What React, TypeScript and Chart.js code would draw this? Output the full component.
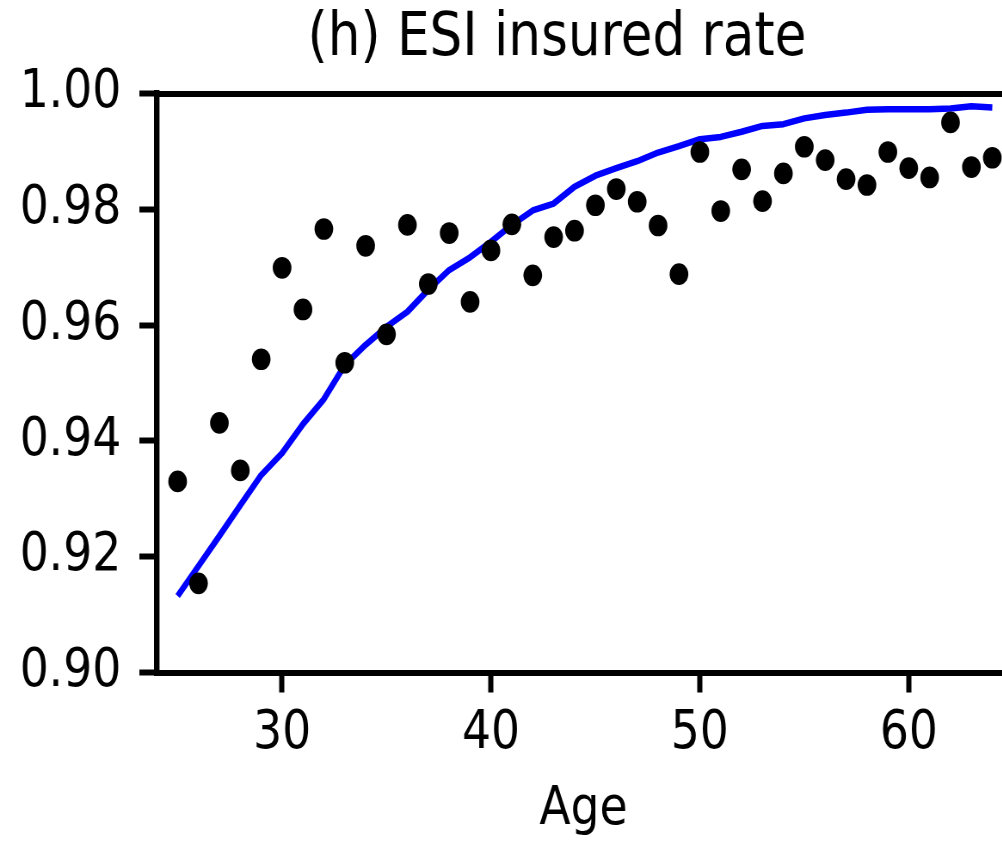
import React, { useEffect, useRef } from 'react';
import { Chart, registerables } from 'chart.js';

Chart.register(...registerables);

// ---------------- data ----------------
const TITLE = '(h) ESI insured rate';
const X_LABEL = 'Age';

const AGES = [
  25, 26, 27, 28, 29, 30, 31, 32, 33, 34,
  35, 36, 37, 38, 39, 40, 41, 42, 43, 44,
  45, 46, 47, 48, 49, 50, 51, 52, 53, 54,
  55, 56, 57, 58, 59, 60, 61, 62, 63, 64,
];

// black dots (data)
const OBSERVED = [
  0.9330, 0.9154, 0.9431, 0.9349, 0.9541, 0.9699, 0.9627, 0.9766, 0.9535, 0.9737,
  0.9584, 0.9773, 0.9671, 0.9759, 0.9640, 0.9729, 0.9774, 0.9686, 0.9752, 0.9763,
  0.9807, 0.9835, 0.9813, 0.9772, 0.9688, 0.9899, 0.9797, 0.9869, 0.9814, 0.9862,
  0.9908, 0.9885, 0.9852, 0.9842, 0.9899, 0.9871, 0.9855, 0.9950, 0.9873, 0.9889,
];

// blue line (model)
const MODEL = [
  0.9132, 0.9184, 0.9236, 0.9289, 0.9341, 0.9379, 0.9429, 0.9472, 0.9531, 0.9566,
  0.9597, 0.9623, 0.9661, 0.9695, 0.9717, 0.9744, 0.9773, 0.9798, 0.9810, 0.9839,
  0.9858, 0.9871, 0.9883, 0.9898, 0.9909, 0.9921, 0.9925, 0.9934, 0.9944, 0.9947,
  0.9957, 0.9963, 0.9967, 0.9972, 0.9973, 0.9973, 0.9973, 0.9974, 0.9978, 0.9976,
];

const X_TICKS = [30, 40, 50, 60];
const Y_TICKS = [0.9, 0.92, 0.94, 0.96, 0.98, 1.0];
const X_MIN = 24;
const X_MAX = 64.86;
const Y_MIN = 0.9;
const Y_MAX = 1.0;

// ---------------- layout ----------------
const FONT = "'DejaVu Sans', sans-serif";
const SX = 0.86; // horizontal squeeze of the rendered canvas
const CANVAS_W = 1295;
const CANVAS_H = 842;

export default function App() {
  const ref = useRef<HTMLCanvasElement>(null);

  useEffect(() => {
    const canvas = ref.current;
    if (!canvas) return;
    const chart = new Chart(canvas, {
      type: 'scatter',
      data: {
        datasets: [
          {
            label: 'Data',
            data: AGES.map((a, i) => ({ x: a, y: OBSERVED[i] })),
            backgroundColor: '#000000',
            borderWidth: 0,
            pointRadius: 10.85,
            pointHoverRadius: 10.85,
            order: 0,
            xAxisID: 'x',
            yAxisID: 'y',
          },
          {
            label: 'Model',
            data: AGES.map((a, i) => ({ x: a, y: MODEL[i] })),
            showLine: true,
            borderColor: '#0000ff',
            backgroundColor: '#0000ff',
            borderWidth: 6.5,
            borderJoinStyle: 'round',
            pointRadius: 0,
            pointHoverRadius: 0,
            fill: false,
            tension: 0,
            order: 1,
            xAxisID: 'x',
            yAxisID: 'y',
          },
        ],
      },
      options: {
        responsive: false,
        maintainAspectRatio: false,
        animation: false,
        devicePixelRatio: 1,
        events: [],
        layout: { padding: 0 },
        plugins: {
          legend: { display: false },
          tooltip: { enabled: false },
          title: {
            display: true,
            text: TITLE,
            color: '#000000',
            font: { family: FONT, size: 60, weight: 'normal', lineHeight: 1.2 },
            padding: { top: 3.2, bottom: 18.3 },
          },
        },
        scales: {
          x: {
            type: 'linear',
            position: 'bottom',
            min: X_MIN,
            max: X_MAX,
            afterBuildTicks: (s: any) => {
              s.ticks = X_TICKS.map((v) => ({ value: v }));
            },
            afterFit: (s: any) => {
              s.height = 169.5;
            },
            grid: {
              display: true,
              drawOnChartArea: false,
              drawTicks: true,
              tickLength: 20,
              tickWidth: 6,
              tickColor: '#000000',
            },
            border: { display: true, color: '#000000', width: 6 },
            ticks: {
              color: '#000000',
              font: { family: FONT, size: 53 },
              padding: 9.7,
              maxRotation: 0,
              autoSkip: false,
              callback: (v: any) => String(v),
            },
            title: {
              display: true,
              text: X_LABEL,
              color: '#000000',
              font: { family: FONT, size: 53 },
              padding: { top: 0, bottom: 0.2 },
            },
          },
          xTop: {
            type: 'linear',
            axis: 'x',
            position: 'top',
            min: X_MIN,
            max: X_MAX,
            afterBuildTicks: (s: any) => {
              s.ticks = X_TICKS.map((v) => ({ value: v }));
            },
            afterFit: (s: any) => {
              s.height = 0;
            },
            grid: { display: true, drawOnChartArea: false, drawTicks: false },
            border: { display: true, color: '#000000', width: 6 },
            ticks: { display: false },
          },
          y: {
            type: 'linear',
            position: 'left',
            min: Y_MIN,
            max: Y_MAX,
            afterBuildTicks: (s: any) => {
              s.ticks = Y_TICKS.map((v) => ({ value: v }));
            },
            afterFit: (s: any) => {
              s.width = 182.2;
            },
            grid: {
              display: true,
              drawOnChartArea: false,
              drawTicks: true,
              tickLength: 20.2,
              tickWidth: 6,
              tickColor: '#000000',
            },
            border: { display: true, color: '#000000', width: 6.4 },
            ticks: {
              color: '#000000',
              font: { family: FONT, size: 53 },
              padding: 21.1,
              autoSkip: false,
              callback: (v: any) => Number(v).toFixed(2),
            },
          },
          yRight: {
            type: 'linear',
            axis: 'y',
            position: 'right',
            min: Y_MIN,
            max: Y_MAX,
            afterFit: (s: any) => {
              s.width = 120.6;
            },
            grid: { display: false },
            border: { display: false },
            ticks: { display: false },
          },
        },
      } as any,
    });
    return () => chart.destroy();
  }, []);

  return (
    <div
      style={{
        position: 'absolute',
        left: 0,
        top: 0,
        width: 1002,
        height: 842,
        overflow: 'hidden',
        background: '#ffffff',
      }}
    >
      <canvas
        ref={ref}
        width={CANVAS_W}
        height={CANVAS_H}
        style={{ display: 'block', width: `${CANVAS_W * SX}px`, height: `${CANVAS_H}px` }}
      />
    </div>
  );
}
